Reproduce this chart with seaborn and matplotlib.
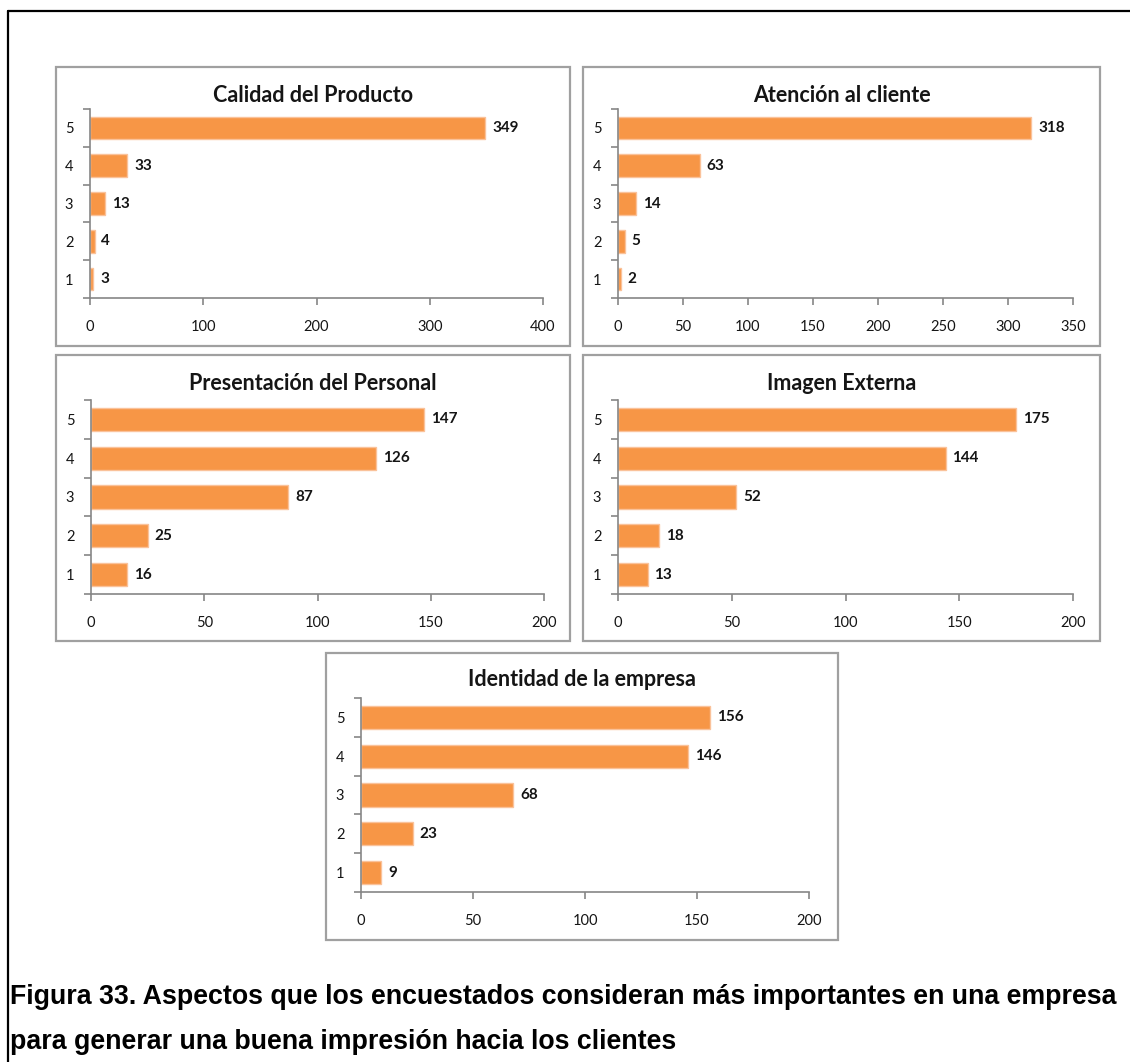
import matplotlib
matplotlib.use("Agg")
import matplotlib.pyplot as plt
from matplotlib.patches import Rectangle
from matplotlib.lines import Line2D
import seaborn as sns
import pandas as pd

# Survey answers (rating 1-5) for each aspect
ratings = ["5", "4", "3", "2", "1"]
calidad_producto = [349, 33, 13, 4, 3]
atencion_cliente = [318, 63, 14, 5, 2]
presentacion_personal = [147, 126, 87, 25, 16]
imagen_externa = [175, 144, 52, 18, 13]
identidad_empresa = [156, 146, 68, 23, 9]

titles = ["Calidad del Producto", "Atención al cliente",
          "Presentación del Personal", "Imagen Externa",
          "Identidad de la empresa"]
series = [calidad_producto, atencion_cliente, presentacion_personal,
          imagen_externa, identidad_empresa]
x_limits = [400, 350, 200, 200, 200]
x_steps = [100, 50, 50, 50, 50]

caption = ("Figura 33. Aspectos que los encuestados consideran más importantes en una empresa\n"
           "para generar una buena impresión hacia los clientes")

W, H = 1130, 1062
BAR = "#F79646"
EDGE = "#FAC29A"
AXIS = "#868686"
FRAME = "#A0A0A0"
TEXT = "#151515"

sns.set_theme(style="white")
plt.rcParams["font.family"] = ["Lato", "DejaVu Sans"]

fig = plt.figure(figsize=(W / 100, H / 100), dpi=100)
fig.patch.set_facecolor("white")

# panel frame (x0, y0, x1, y1) and plot area (left, top, right, bottom), in pixels
frames = [(56, 67, 570, 346), (583, 67, 1100, 346),
          (56, 355, 570, 641), (583, 355, 1100, 641),
          (326, 653, 838, 940)]
areas = [(90, 109, 543, 298), (618, 109, 1073, 298),
         (91, 400, 544, 594), (618, 400, 1073, 594),
         (361, 698, 809, 892)]
title_y = [95, 95, 383, 383, 680]


def fx(px):
    return px / W


def fy(py):
    return 1 - py / H


for frame, area, ty, title, vals, xmax, step in zip(
        frames, areas, title_y, titles, series, x_limits, x_steps):
    x0, y0, x1, y1 = frame
    fig.patches.append(Rectangle((fx(x0), fy(y1)), fx(x1 - x0), (y1 - y0) / H,
                                 transform=fig.transFigure, fill=False,
                                 edgecolor=FRAME, linewidth=1.6, zorder=0))
    fig.text(fx((x0 + x1) / 2), fy(ty), title, ha="center", va="center",
             fontsize=15.5, fontweight="bold", color=TEXT)

    l, t, r, b = area
    ax = fig.add_axes([fx(l), fy(b), fx(r - l), (b - t) / H])
    df = pd.DataFrame({"rating": ratings, "count": vals})
    sns.barplot(data=df, x="count", y="rating", order=ratings, orient="h",
                color=BAR, saturation=1, width=0.6, edgecolor=EDGE,
                linewidth=1, ax=ax)
    ax.bar_label(ax.containers[0], padding=5, fontsize=11,
                 fontweight="bold", color=TEXT)

    ax.set_xlim(0, xmax)
    ax.set_ylim(4.5, -0.5)
    ax.set_xticks(range(0, xmax + 1, step))
    ax.set_xlabel("")
    ax.set_ylabel("")
    ax.set_yticks([-0.5, 0.5, 1.5, 2.5, 3.5, 4.5], minor=True)
    ax.tick_params(axis="y", which="major", length=0, pad=12,
                   labelsize=10.5, labelcolor=TEXT)
    ax.tick_params(axis="y", which="minor", length=5, width=1.2,
                   color=AXIS, direction="out", left=True)
    ax.tick_params(axis="x", which="major", length=5, width=1.2,
                   color=AXIS, direction="out", bottom=True, pad=11,
                   labelsize=10.5, labelcolor=TEXT)
    for side in ("top", "right"):
        ax.spines[side].set_visible(False)
    for side in ("left", "bottom"):
        ax.spines[side].set_color(AXIS)
        ax.spines[side].set_linewidth(1.2)
    ax.set_facecolor("none")

# outer page border (left and top edges)
fig.lines.append(Line2D([fx(8), fx(8)], [fy(11), 0], transform=fig.transFigure,
                        color="black", linewidth=1.6))
fig.lines.append(Line2D([fx(8), 1], [fy(11), fy(11)], transform=fig.transFigure,
                        color="black", linewidth=1.6))

fig.text(fx(10), fy(984), caption, ha="left", va="top",
         fontsize=19.3, fontweight="bold", family="Liberation Sans",
         linespacing=1.95, color="black")

fig.savefig("out.png", dpi=100)
